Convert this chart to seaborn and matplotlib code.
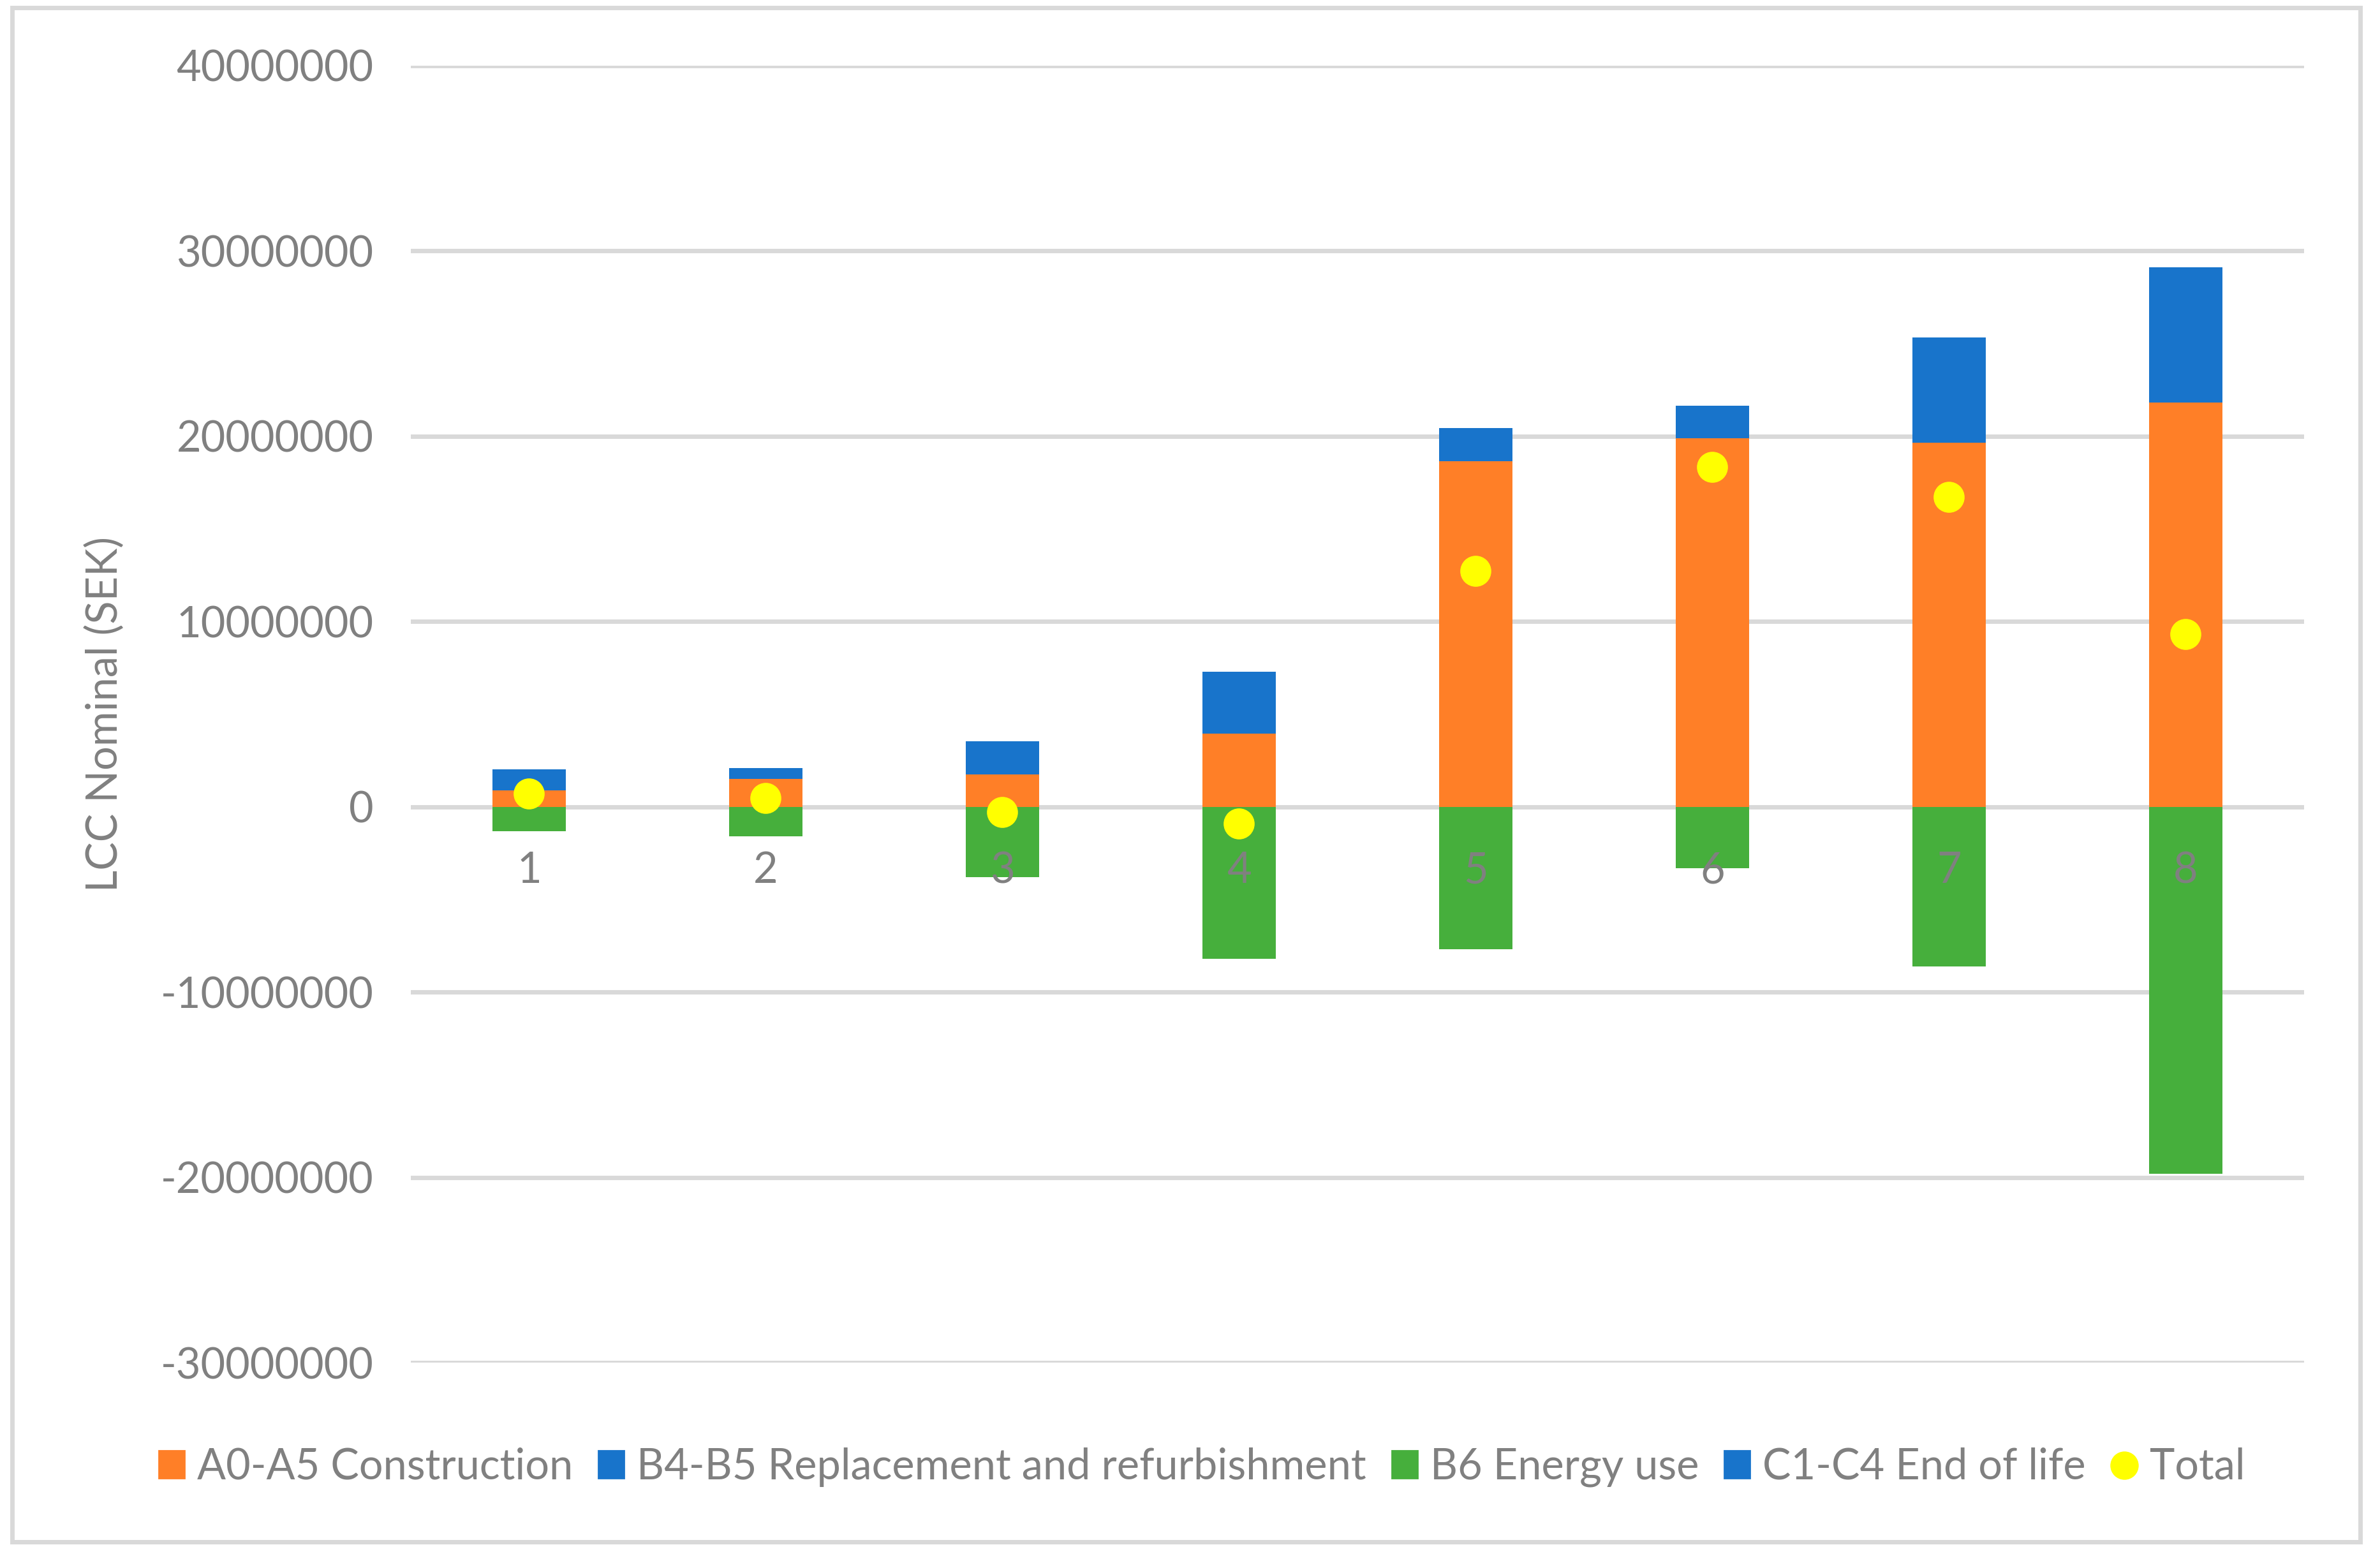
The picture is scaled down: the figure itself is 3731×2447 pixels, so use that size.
import matplotlib
matplotlib.use("Agg")
import matplotlib.pyplot as plt
import seaborn as sns
from matplotlib.patches import Patch, Rectangle
from matplotlib.lines import Line2D

# values (SEK)
cases = ["1", "2", "3", "4", "5", "6", "7", "8"]
construction = [900000, 1500000, 1750000, 3950000, 18650000, 19900000, 19650000, 21800000]
replacement = [1100000, 550000, 1750000, 3300000, 1750000, 1700000, 5650000, 7300000]
energy = [-1300000, -1600000, -3800000, -8200000, -7700000, -3300000, -8600000, -19800000]
end_of_life = [30000, 30000, 30000, 30000, 30000, 30000, 30000, 30000]
total = [c + r + e + l for c, r, e, l in zip(construction, replacement, energy, end_of_life)]

orange = "#FF7F27"
blue = "#1874CB"
green = "#46AF3C"
yellow = "#FFFF00"
grey = "#808080"

sns.set_style("white")
plt.rcParams["font.family"] = ["Lato", "DejaVu Sans"]

fig = plt.figure(figsize=(18.655, 12.235), dpi=200)
ax = fig.add_axes([0.1726, 0.127, 0.7955, 0.831])

w = 0.31
top_eol = [c + r + l for c, r, l in zip(construction, replacement, end_of_life)]
top_rep = [c + r for c, r in zip(construction, replacement)]
bar_kw = dict(width=w, saturation=1, ax=ax, zorder=2, linewidth=0)
sns.barplot(x=cases, y=top_eol, color=blue, **bar_kw)
sns.barplot(x=cases, y=top_rep, color=blue, **bar_kw)
sns.barplot(x=cases, y=construction, color=orange, **bar_kw)
sns.barplot(x=cases, y=energy, color=green, **bar_kw)
sns.stripplot(x=cases, y=total, color=yellow, size=17.5, jitter=False, linewidth=0, ax=ax, zorder=4)

ax.set_ylim(-30000000, 40000000)
ax.set_xlim(-0.5, 7.5)
ax.set_yticks(range(-30000000, 40000001, 10000000))
ax.set_yticklabels([str(v) for v in range(-30000000, 40000001, 10000000)])
ax.yaxis.grid(True, color="#D9D9D9", linewidth=2.5, zorder=0)
ax.set_axisbelow(True)
ax.xaxis.set_zorder(5)
for s in ["top", "right", "left"]:
    ax.spines[s].set_visible(False)
ax.spines["bottom"].set_position(("data", 0))
ax.spines["bottom"].set_visible(False)
ax.tick_params(axis="y", length=0, pad=21, labelsize=24, labelcolor=grey)
ax.tick_params(axis="x", length=0, pad=25, labelsize=24, labelcolor=grey)
ax.set_xlabel("")
ax.set_ylabel("LCC Nominal (SEK)", fontsize=24, color=grey, labelpad=20)

handles = [
    Patch(color=orange, label="A0-A5 Construction"),
    Patch(color=blue, label="B4-B5 Replacement and refurbishment"),
    Patch(color=green, label="B6 Energy use"),
    Patch(color=blue, label="C1-C4 End of life"),
    Line2D([], [], marker="o", linestyle="none", markersize=15, color=yellow, label="Total"),
]
fig.legend(handles=handles, loc="center", bbox_to_anchor=(0.505, 0.06), ncol=5, frameon=False,
           fontsize=24, labelcolor=grey, handlelength=0.6, handleheight=0.6,
           handletextpad=0.3, columnspacing=0.6)

fig.patches.append(Rectangle((0.005, 0.0123), 0.9867, 0.9827, transform=fig.transFigure,
                             fill=False, edgecolor="#D9D9D9", linewidth=2.5))

fig.savefig("out.png", dpi=200, facecolor="white")
